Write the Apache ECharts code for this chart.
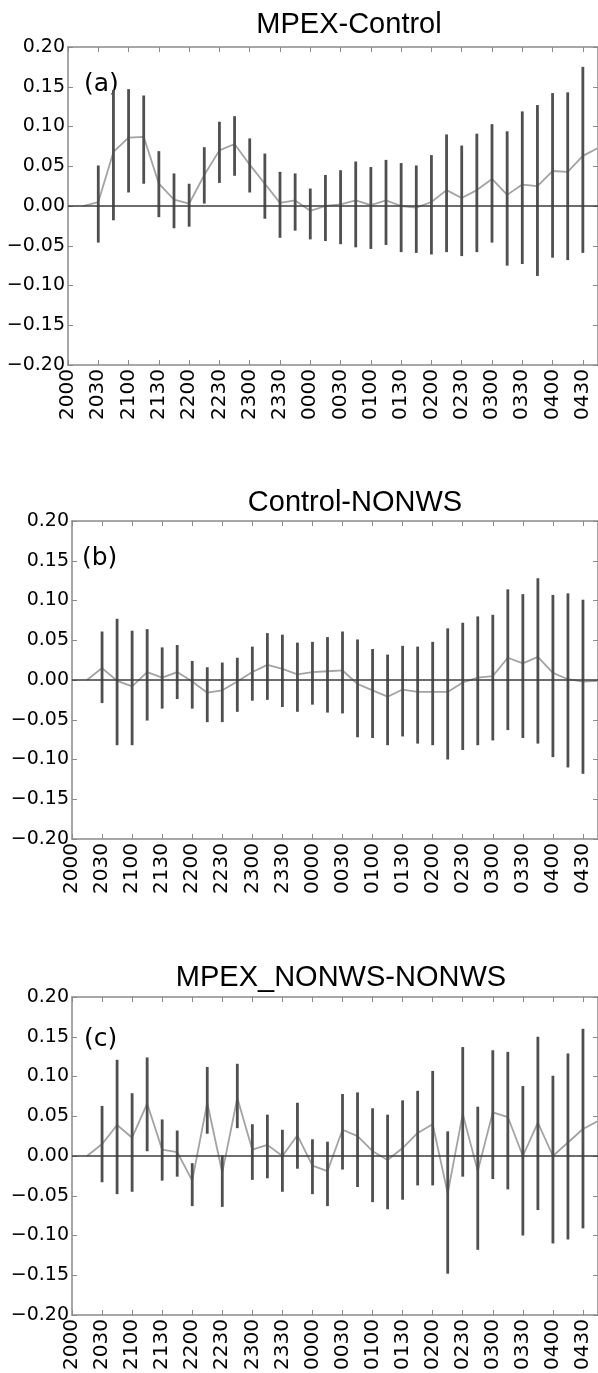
<!DOCTYPE html>
<html>
<head>
<meta charset="utf-8">
<script src="https://cdn.jsdelivr.net/npm/echarts@6/dist/echarts.min.js"></script>
<style>
  html, body { margin: 0; padding: 0; background: #fff; }
  #chart { width: 598px; height: 1373px; }
</style>
</head>
<body>
<div id="chart"></div>
<script>
// Quarter-hourly time steps (UTC), 2000 through 0445
const times = ['2000','2015','2030','2045','2100','2115','2130','2145','2200','2215','2230','2245',
               '2300','2315','2330','2345','0000','0015','0030','0045','0100','0115','0130','0145',
               '0200','0215','0230','0245','0300','0315','0330','0345','0400','0415','0430','0445'];

// (a) MPEX-Control: mean difference and error-bar range
const meanA = [null, 0.000, 0.005, 0.068, 0.086, 0.087, 0.028, 0.008, 0.003, 0.039, 0.070, 0.078,
               0.052, 0.028, 0.004, 0.007, -0.006, 0.000, 0.002, 0.007, 0.001, 0.007, 0.000, -0.002,
               0.005, 0.020, 0.010, 0.020, 0.034, 0.014, 0.027, 0.025, 0.044, 0.043, 0.063, 0.073];
const lowA  = [null, null, -0.046, -0.018, 0.017, 0.028, -0.014, -0.028, -0.026, 0.003, 0.029, 0.038,
               0.017, -0.016, -0.040, -0.031, -0.042, -0.044, -0.048, -0.052, -0.054, -0.049, -0.058, -0.059,
               -0.061, -0.058, -0.063, -0.058, -0.046, -0.075, -0.073, -0.088, -0.065, -0.068, -0.059, null];
const highA = [null, null, 0.051, 0.146, 0.147, 0.139, 0.069, 0.041, 0.028, 0.074, 0.106, 0.113,
               0.085, 0.066, 0.043, 0.041, 0.022, 0.039, 0.045, 0.056, 0.049, 0.058, 0.054, 0.051,
               0.064, 0.090, 0.076, 0.091, 0.103, 0.094, 0.119, 0.127, 0.142, 0.143, 0.175, null];

// (b) Control-NONWS
const meanB = [null, 0.000, 0.015, -0.001, -0.008, 0.010, 0.003, 0.010, -0.002, -0.016, -0.013, -0.002,
               0.010, 0.019, 0.014, 0.007, 0.010, 0.011, 0.012, -0.005, -0.013, -0.021, -0.012, -0.015,
               -0.015, -0.015, -0.003, 0.003, 0.005, 0.028, 0.021, 0.029, 0.009, 0.001, -0.002, -0.001];
const lowB  = [null, null, -0.029, -0.082, -0.082, -0.051, -0.036, -0.024, -0.036, -0.053, -0.053, -0.040,
               -0.026, -0.025, -0.034, -0.040, -0.031, -0.041, -0.042, -0.072, -0.073, -0.082, -0.071, -0.080,
               -0.082, -0.100, -0.088, -0.082, -0.076, -0.063, -0.073, -0.080, -0.097, -0.110, -0.118, null];
const highB = [null, null, 0.061, 0.077, 0.062, 0.064, 0.041, 0.044, 0.024, 0.016, 0.022, 0.028,
               0.042, 0.059, 0.057, 0.047, 0.048, 0.054, 0.061, 0.051, 0.039, 0.032, 0.043, 0.042,
               0.048, 0.065, 0.072, 0.080, 0.082, 0.114, 0.108, 0.128, 0.107, 0.109, 0.101, null];

// (c) MPEX_NONWS-NONWS
const meanC = [null, 0.000, 0.015, 0.039, 0.023, 0.066, 0.008, 0.005, -0.031, 0.067, -0.021, 0.073,
               0.008, 0.014, 0.000, 0.026, -0.012, -0.019, 0.033, 0.025, 0.006, -0.005, 0.010, 0.029,
               0.040, -0.047, 0.053, -0.019, 0.055, 0.049, 0.000, 0.042, 0.000, 0.017, 0.034, 0.044];
const lowC  = [null, null, -0.033, -0.048, -0.045, 0.006, -0.031, -0.026, -0.063, 0.028, -0.064, 0.035,
               -0.030, -0.028, -0.045, -0.016, -0.048, -0.063, -0.017, -0.039, -0.058, -0.067, -0.055, -0.037,
               -0.037, -0.148, -0.026, -0.118, -0.029, -0.042, -0.100, -0.068, -0.110, -0.105, -0.091, null];
const highC = [null, null, 0.063, 0.121, 0.079, 0.124, 0.046, 0.032, -0.009, 0.112, 0.001, 0.116,
               0.040, 0.052, 0.033, 0.067, 0.021, 0.018, 0.078, 0.080, 0.060, 0.052, 0.070, 0.082,
               0.107, 0.031, 0.137, 0.062, 0.133, 0.131, 0.088, 0.150, 0.101, 0.129, 0.160, null];

const titles = ['MPEX-Control', 'Control-NONWS', 'MPEX_NONWS-NONWS'];
const letters = ['(a)', '(b)', '(c)'];
const yTicks = { min: -0.20, max: 0.20, step: 0.05 };

const panels = [
  { mean: meanA, low: lowA, high: highA },
  { mean: meanB, low: lowB, high: highB },
  { mean: meanC, low: lowC, high: highC }
];

// panel frames and title placement
const frames = [
  { left: 68, top: 47,  width: 530, height: 318, titleX: 349, titleY: 10,  letterX: 84, letterY: 72 },
  { left: 72, top: 521, width: 530, height: 318, titleX: 355, titleY: 488, letterX: 82, letterY: 546 },
  { left: 72, top: 997, width: 531, height: 318, titleX: 341, titleY: 963, letterX: 84, letterY: 1027 }
];

const SPINE = '#8a8a8a';
const TICK_FONT = 'DejaVu Sans';

const grid = [], xAxis = [], yAxis = [], series = [], graphic = [];

frames.forEach((f, i) => {
  grid.push({ left: f.left, top: f.top, width: f.width, height: f.height, containLabel: false });

  // bottom time axis with labels
  xAxis.push({
    type: 'category', gridIndex: i, data: times, boundaryGap: false, position: 'bottom',
    axisLine: { show: true, onZero: false, lineStyle: { color: SPINE, width: 1.5 } },
    axisTick: { show: true, inside: true, length: 5, interval: 1, lineStyle: { color: SPINE } },
    axisLabel: { show: true, interval: 1, rotate: 90, margin: 4, color: '#000',
                 fontFamily: TICK_FONT, fontSize: 20 },
    splitLine: { show: false }
  });
  // top frame edge with mirrored ticks
  xAxis.push({
    type: 'category', gridIndex: i, data: times, boundaryGap: false, position: 'top',
    axisLine: { show: true, onZero: false, lineStyle: { color: SPINE, width: 1.5 } },
    axisTick: { show: true, inside: true, length: 5, interval: 1, lineStyle: { color: SPINE } },
    axisLabel: { show: false }, splitLine: { show: false }
  });
  // left value axis
  yAxis.push({
    type: 'value', gridIndex: i, min: yTicks.min, max: yTicks.max, interval: yTicks.step, position: 'left',
    axisLine: { show: true, onZero: false, lineStyle: { color: SPINE, width: 1.5 } },
    axisTick: { show: true, inside: true, length: 5, lineStyle: { color: SPINE } },
    axisLabel: { show: true, margin: 3, color: '#000', fontFamily: TICK_FONT, fontSize: 19,
                 formatter: v => (v < 0 ? '\u2212' : '') + Math.abs(v).toFixed(2) },
    splitLine: { show: false }
  });
  // right frame edge with mirrored ticks
  yAxis.push({
    type: 'value', gridIndex: i, min: yTicks.min, max: yTicks.max, interval: yTicks.step, position: 'right',
    axisLine: { show: true, onZero: false, lineStyle: { color: SPINE, width: 1.5 } },
    axisTick: { show: true, inside: true, length: 5, lineStyle: { color: SPINE } },
    axisLabel: { show: false }, splitLine: { show: false }
  });

  const p = panels[i];
  // mean difference line with the zero reference
  series.push({
    type: 'line', xAxisIndex: 2 * i, yAxisIndex: 2 * i, data: p.mean,
    showSymbol: false, symbol: 'none', connectNulls: false, z: 2, silent: true,
    lineStyle: { color: '#a3a3a3', width: 1.8 },
    markLine: {
      silent: true, symbol: 'none', label: { show: false },
      lineStyle: { color: '#3c3c3c', width: 1.5, type: 'solid' },
      data: [{ yAxis: 0 }]
    }
  });
  // vertical error bars
  const bars = [];
  times.forEach((t, k) => {
    if (p.low[k] !== null && p.high[k] !== null) bars.push([k, p.low[k], p.high[k]]);
  });
  series.push({
    type: 'custom', xAxisIndex: 2 * i, yAxisIndex: 2 * i, data: bars, z: 3, silent: true,
    encode: { x: 0, y: [1, 2] },
    renderItem: (params, api) => {
      const a = api.coord([api.value(0), api.value(1)]);
      const b = api.coord([api.value(0), api.value(2)]);
      return { type: 'line', shape: { x1: a[0], y1: a[1], x2: b[0], y2: b[1] },
               style: { stroke: '#4f4f4f', lineWidth: 2.8 } };
    }
  });

  graphic.push({
    type: 'text', x: f.titleX, y: f.titleY, silent: true,
    style: { text: titles[i], fill: '#000', font: '29px "Liberation Sans"', textAlign: 'center', textVerticalAlign: 'top' }
  });
  graphic.push({
    type: 'text', x: f.letterX, y: f.letterY, silent: true,
    style: { text: letters[i], fill: '#000', font: '25px "DejaVu Sans"', textAlign: 'left', textVerticalAlign: 'top' }
  });
});

const chart = echarts.init(document.getElementById('chart'), null, { renderer: 'canvas' });
chart.setOption({
  animation: false,
  backgroundColor: '#fff',
  grid, xAxis, yAxis, series, graphic
});
</script>
</body>
</html>
